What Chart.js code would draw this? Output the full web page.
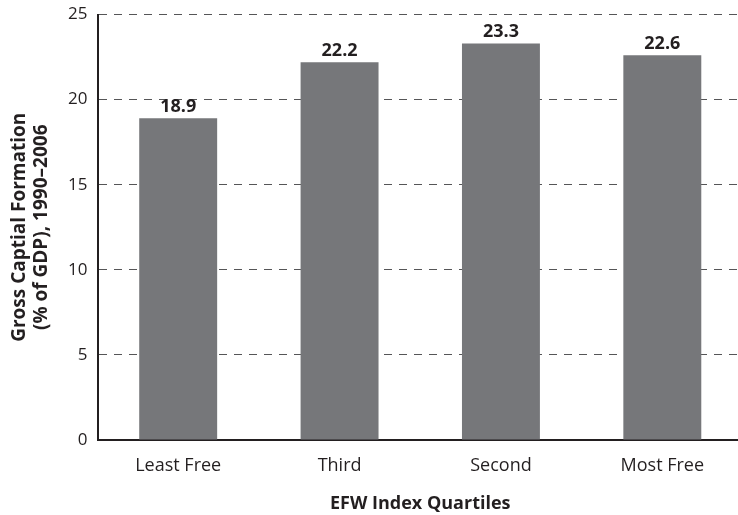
<!DOCTYPE html>
<html>
<head>
<meta charset="utf-8">
<script src="https://cdn.jsdelivr.net/npm/chart.js@4"></script>
<style>
  html, body { margin: 0; padding: 0; background: #fff; overflow: hidden; }
  #wrap { width: 738px; height: 515px; overflow: hidden; position: relative; }
  canvas { display: block; }
</style>
</head>
<body>
<div id="wrap"><canvas id="c" width="743" height="515"></canvas></div>
<script>
const categories = ["Least Free", "Third", "Second", "Most Free"];
const values = [18.9, 22.2, 23.3, 22.6];
const yTicks = [0, 5, 10, 15, 20, 25];
const xTitle = "EFW Index Quartiles";
const yTitle = ["Gross Captial Formation", "(% of GDP), 1990\u20132006"];

const FONT = "'Open Sans', 'DejaVu Sans', sans-serif";
const INK = "#231f20";
const BAR = "#76777a";

const valueLabels = {
  id: "valueLabels",
  afterDatasetsDraw(chart) {
    const ctx = chart.ctx;
    const meta = chart.getDatasetMeta(0);
    ctx.save();
    ctx.font = "bold 18px " + FONT;
    ctx.fillStyle = INK;
    ctx.textAlign = "center";
    ctx.textBaseline = "alphabetic";
    meta.data.forEach((bar, i) => {
      ctx.fillText(values[i].toFixed(1), bar.x, bar.y - 6);
    });
    ctx.restore();
  }
};

new Chart(document.getElementById("c"), {
  type: "bar",
  data: {
    labels: categories,
    datasets: [{
      data: values,
      backgroundColor: BAR,
      borderWidth: 0,
      barPercentage: 0.483,
      categoryPercentage: 1.0
    }]
  },
  options: {
    responsive: false,
    animation: false,
    devicePixelRatio: 1,
    layout: { padding: { top: 14.5, left: 0, right: 0, bottom: 0 } },
    plugins: {
      legend: { display: false },
      tooltip: { enabled: false }
    },
    scales: {
      x: {
        grid: { display: false, drawTicks: false },
        border: { display: true, color: INK, width: 2 },
        ticks: { color: INK, font: { family: FONT, size: 18 }, padding: 15 },
        title: {
          display: true, text: xTitle, color: INK,
          font: { family: FONT, size: 18, weight: "bold" },
          padding: { top: 4, bottom: 0 }
        },
        afterFit(scale) { scale.height = 75; }
      },
      y: {
        min: 0, max: 25,
        afterBuildTicks(scale) { scale.ticks = yTicks.map(v => ({ value: v })); },
        grid: {
          color: "#555557", lineWidth: 1,
          drawTicks: true, tickLength: 6, tickColor: "rgba(0,0,0,0)"
        },
        border: { display: true, color: INK, width: 2, dash: [8, 7] },
        ticks: { color: INK, font: { family: FONT, size: 17 }, padding: 4 },
        title: {
          display: true, text: yTitle, color: INK,
          font: { family: FONT, size: 19, weight: "bold", lineHeight: 1.15 },
          padding: { top: 9, bottom: 0 }
        },
        afterFit(scale) { scale.width = 97.5; }
      }
    }
  },
  plugins: [valueLabels]
});
</script>
</body>
</html>
